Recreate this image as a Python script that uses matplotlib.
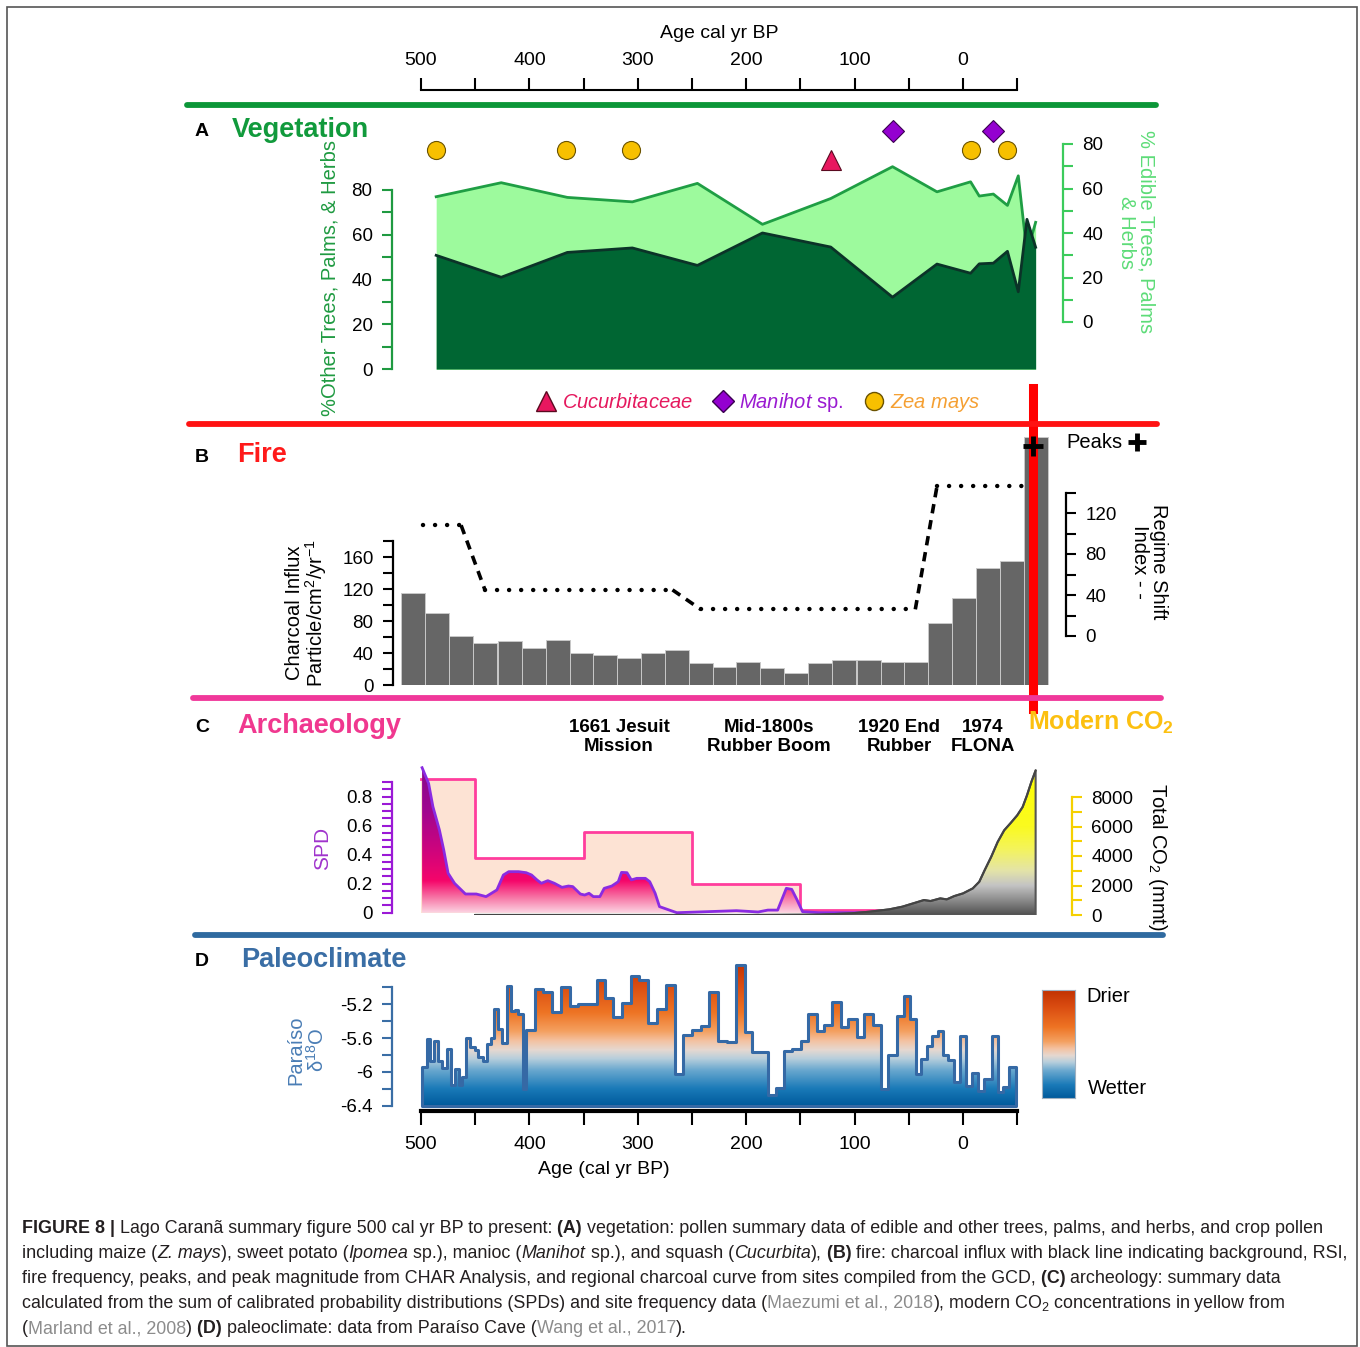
import numpy as np
import matplotlib
matplotlib.use("Agg")
import matplotlib.pyplot as plt
from matplotlib.colors import LinearSegmentedColormap
from matplotlib.lines import Line2D
from matplotlib.patches import Rectangle

plt.rcParams["font.family"] = ["Liberation Sans", "DejaVu Sans"]
plt.rcParams["mathtext.fontset"] = "custom"
plt.rcParams["mathtext.rm"] = "Liberation Sans"
plt.rcParams["mathtext.it"] = "Liberation Sans:italic"
plt.rcParams["mathtext.bf"] = "Liberation Sans:bold"

## Data, ages in cal yr BP
# (A) vegetation
veg_age = [486, 426, 365, 305, 245, 185, 122, 65, 24, -7, -15, -28, -41, -51, -59, -67]
other_pct = [50.8, 41.0, 52.1, 54.1, 46.3, 60.8, 54.5, 32.1, 46.9, 42.8, 47.0, 47.3, 52.6, 34.5, 66.9, 54.4]
edible_pct = [56.3, 62.6, 56.0, 54.0, 62.3, 43.9, 55.5, 69.8, 58.5, 63.0, 56.6, 57.5, 52.4, 65.7, 31.0, 44.8]
zea_age = [486, 366, 306, -7, -41]
cucurbit_age = [122]
manihot_age = [65, -28]

# (B) fire
char_age = [507, 485, 463, 441, 418, 396, 374, 352, 330, 308, 286, 264, 242, 220,
            198, 176, 154, 132, 110, 87, 65, 43, 21, -1, -23, -45, -67]
char_influx = [114.8, 90.1, 61.6, 52.4, 54.5, 45.7, 56.5, 39.8, 36.9, 33.9, 40.2, 44.0, 27.2, 23.0,
               29.3, 20.9, 15.5, 28.1, 31.4, 31.4, 28.5, 28.5, 77.9, 108.9, 145.8, 155.0, 310.0]
rsi_age = [498, 463, 441, 268, 242, 44, 24, -67]
rsi = [108, 108, 45, 45, 26, 26, 146, 146]
peak_age = [-65]

# (C) archaeology + CO2
site_edges = [500, 450, 350, 250, 150, 50]
site_freq = [0.92, 0.377, 0.557, 0.198, 0.02]
spd_age = [499, 493, 489, 483, 479, 475, 469, 459, 449, 440, 430, 424, 419, 410, 403, 398, 393,
           389, 383, 377, 370, 364, 360, 353, 349, 345, 341, 335, 331, 324, 318, 315, 310, 306,
           301, 293, 289, 284, 280, 264, 209, 189, 180, 171, 163, 158, 153, 148, 133, 56]
spd = [1.0, 0.892, 0.731, 0.570, 0.432, 0.272, 0.202, 0.129, 0.129, 0.111, 0.157, 0.260, 0.283,
       0.283, 0.276, 0.260, 0.226, 0.203, 0.221, 0.203, 0.175, 0.184, 0.180, 0.129, 0.122, 0.134,
       0.111, 0.111, 0.168, 0.184, 0.214, 0.278, 0.276, 0.226, 0.237, 0.237, 0.214, 0.134, 0.042,
       0.0, 0.014, 0.005, 0.018, 0.018, 0.168, 0.161, 0.087, 0.007, 0.0, 0.0]
co2_age = [450, 200, 133, 103, 86, 68, 56, 44, 36, 30, 21, 15, 8, 0, -9, -15, -20, -26, -32,
           -38, -44, -50, -55, -59, -63, -67]
co2 = [0, 0, 20, 113, 225, 383, 563, 833, 1014, 946, 1126, 1059, 1284, 1464, 1802, 2252, 3041,
       3941, 4955, 5743, 6239, 6757, 7320, 8108, 9009, 9797]

# (D) Paraiso d18O, step series (left edge ages)
d18o_age = [498.7, 494.7, 491.7, 488.0, 484.0, 480.9, 476.3, 472.3, 468.6, 464.9, 461.8, 458.5,
            454.8, 450.1, 447.1, 443.1, 439.4, 435.4, 432.3, 428.6, 424.9, 420.9, 417.2, 413.2,
            410.2, 406.2, 403.1, 394.8, 387.1, 379.4, 370.8, 362.5, 354.8, 337.9, 330.2, 322.5,
            314.2, 306.2, 298.9, 290.2, 281.9, 274.3, 265.6, 258.0, 250.3, 242.0, 234.0, 226.3,
            218.0, 209.7, 201.1, 194.4, 179.6, 172.8, 165.1, 157.5, 149.8, 142.7, 135.0, 127.9,
            120.6, 112.9, 105.8, 98.1, 91.0, 83.3, 75.7, 68.9, 61.2, 54.1, 48.9, 43.7, 38.8,
            33.5, 28.3, 23.4, 18.2, 13.5, 8.0, 2.8, -2.4, -8.0, -14.1, -19.7, -27.0, -32.0,
            -37.2, -42.4]
d18o = [-5.94, -5.61, -5.87, -5.63, -5.87, -5.95, -5.73, -6.16, -5.96, -6.16, -6.06, -5.60,
        -5.70, -5.74, -5.82, -5.87, -5.67, -5.60, -5.26, -5.49, -5.66, -4.98, -5.28, -5.27,
        -5.31, -6.20, -5.50, -5.02, -5.06, -5.29, -5.00, -5.22, -5.20, -4.91, -5.12, -5.35,
        -5.19, -4.86, -4.91, -5.42, -5.26, -4.97, -6.03, -5.56, -5.50, -5.46, -5.06, -5.63,
        -5.65, -4.73, -5.53, -5.76, -6.27, -6.19, -5.75, -5.73, -5.63, -5.31, -5.52, -5.44,
        -5.17, -5.47, -5.37, -5.59, -5.32, -5.44, -6.20, -5.80, -5.34, -5.10, -5.37, -6.03,
        -5.85, -5.69, -5.57, -5.52, -5.80, -5.86, -6.12, -5.58, -6.17, -6.01, -6.23, -6.08,
        -5.58, -6.24, -6.18, -5.94]
d18o_end = -49

age_major = [500, 400, 300, 200, 100, 0]
age_minor = [450, 350, 250, 150, 50, -50]

W, H = 1360, 1347
fig = plt.figure(figsize=(W / 100, H / 100), dpi=100)


def px_ax(x0, y0, x1, y1):
    ax = fig.add_axes([x0 / W, 1 - y1 / H, (x1 - x0) / W, (y1 - y0) / H])
    ax.set_xlim(age_of(x0), age_of(x1))
    return ax


def age_of(px):
    return 500 - (px - 421) / 1.084


def ftext(x, y, s, **kw):
    kw.setdefault("ha", "center")
    kw.setdefault("va", "center")
    return fig.text(x / W, 1 - y / H, s, **kw)


def hline(x0, x1, y, color):
    fig.add_artist(Line2D([x0 / W, x1 / W], [1 - y / H, 1 - y / H], color=color, lw=4.2,
                          solid_capstyle="round"))


def yaxis_style(ax, side, color, bounds, major, labels, minor):
    for s in ax.spines:
        ax.spines[s].set_visible(s == side)
    ax.spines[side].set_color(color)
    ax.spines[side].set_linewidth(1.6)
    ax.spines[side].set_bounds(*bounds)
    ax.set_yticks(major, labels)
    ax.set_yticks(minor, minor=True)
    ax.tick_params(axis="y", which="both", left=side == "left", right=side == "right",
                   labelleft=side == "left", labelright=side == "right",
                   color=color, length=7, width=1.5, labelsize=13.5, pad=7)
    ax.tick_params(axis="x", which="both", bottom=False, top=False,
                   labelbottom=False, labeltop=False)


def gradient_fill(ax, x, y, base, cmap, vmin, vmax, step=None, edge="none", lw=0, z=2):
    poly = ax.fill_between(x, y, base, step=step, facecolor="none", edgecolor=edge,
                           lw=lw, zorder=z + 0.1)
    xl, yl = ax.get_xlim(), ax.get_ylim()
    ramp = np.linspace(0, 1, 256)[:, None]
    im = ax.imshow(ramp, cmap=cmap, extent=[xl[0], xl[1], vmin, vmax], origin="lower",
                   aspect="auto", zorder=z)
    im.set_clip_path(poly.get_paths()[0], transform=ax.transData)
    ax.set_xlim(xl)
    ax.set_ylim(yl)
    return poly


# frame round the whole figure
fig.add_artist(Rectangle((7 / W, 1 - 1346 / H), 1350 / W, 1339 / H, fill=False,
                         ec="#555555", lw=1.2))

## top age axis
axT = px_ax(392, 90, 1030, 100)
axT.patch.set_visible(False)
for s in ["left", "right", "bottom"]:
    axT.spines[s].set_visible(False)
axT.spines["top"].set_linewidth(1.5)
axT.spines["top"].set_bounds(500, -50)
axT.xaxis.set_ticks_position("top")
axT.set_xticks(age_major, [str(a) for a in age_major])
axT.set_xticks(age_minor, minor=True)
axT.set_yticks([])
axT.tick_params(axis="x", which="both", length=9, width=1.5, pad=6, labelsize=14)
ftext(719, 33, "Age cal yr BP", fontsize=14)

## separators and panel titles
hline(187, 1156, 105, "#0c9638")
hline(189, 1157, 424, "#ff1212")
hline(193, 1161, 698, "#f0389a")
hline(195, 1163, 935, "#2f6aa0")
for lab, x, y, col, tx, title in [("A", 195, 132, "#119a3c", 232, "Vegetation"),
                                   ("B", 195, 457, "#ff1a1a", 237, "Fire"),
                                   ("C", 195, 728, "#f0388f", 237, "Archaeology"),
                                   ("D", 195, 962, "#3a6ea5", 241, "Paleoclimate")]:
    ftext(x, y, lab, ha="left", fontsize=14, fontweight="bold")
    ftext(tx, y - 2, title, ha="left", fontsize=19.5, fontweight="bold", color=col)

## (A) vegetation
axA = px_ax(392, 115, 1063, 369)
axA.set_ylim(0, (369 - 115) * 80 / 179)
axA2 = axA.twinx()
axA2.set_ylim((322 - 369) * 80 / 178, (322 - 115) * 80 / 178)
axA.set_zorder(3)
axA.patch.set_visible(False)
axA2.set_zorder(2)
axA2.fill_between(veg_age, edible_pct, -100, color="#9dfa9d", lw=0)
axA2.plot(veg_age, edible_pct, color="#1f9e44", lw=2)
axA.fill_between(veg_age, other_pct, 0, color="#006633", lw=0)
axA.plot(veg_age, other_pct, color="#0b3328", lw=2)
axA.plot(zea_age, [97.9] * len(zea_age), "o", ms=13, mfc="#f7c000", mec="#6b5300", mew=0.8,
         clip_on=False)
axA.plot(cucurbit_age, [93.4] * len(cucurbit_age), "^", ms=14, mfc="#e8175f", mec="#5a0a20",
         mew=0.8, clip_on=False)
axA.plot(manihot_age, [106.4] * len(manihot_age), "D", ms=11, mfc="#9400d0", mec="#3a0050",
         mew=0.8, clip_on=False)
yaxis_style(axA, "left", "#1f9a41", (0, 80), range(0, 81, 20),
            [str(v) for v in range(0, 81, 20)], range(0, 81, 10))
yaxis_style(axA2, "right", "#3ccb5c", (0, 80), range(0, 81, 20),
            [str(v) for v in range(0, 81, 20)], range(0, 81, 10))
ftext(330, 278, "%Other Trees, Palms, & Herbs", rotation=90, color="#1f9a41", fontsize=14.5)
ftext(1136, 232, "% Edible Trees, Palms\n& Herbs", rotation=-90, color="#5ddc78",
      fontsize=14.5, linespacing=1.0, multialignment="center")

handles = [Line2D([], [], ls="", marker="^", ms=14, mfc="#e8175f", mec="#5a0a20"),
           Line2D([], [], ls="", marker="D", ms=11, mfc="#9400d0", mec="#3a0050"),
           Line2D([], [], ls="", marker="o", ms=13, mfc="#f7c000", mec="#6b5300")]
leg = fig.legend(handles, [r"$\mathit{Cucurbitaceae}$", r"$\mathit{Manihot}$ sp.",
                           r"$\mathit{Zea\ mays}$"],
                 loc="center", bbox_to_anchor=(758 / W, 1 - 403 / H), ncol=3, frameon=False,
                 fontsize=14.5, handletextpad=0.3, columnspacing=1.0, handlelength=1.0)
for t, c in zip(leg.get_texts(), ["#e5195e", "#9a1ad1", "#f5a033"]):
    t.set_color(c)

## (B) fire
axB = px_ax(393, 430, 1066, 685)
axB.set_ylim(0, (685 - 430) / 0.8)
axB.bar(char_age, char_influx, width=22, color="#666666", edgecolor="#c8c8c8", lw=0.7)
axB2 = axB.twinx()
axB2.set_ylim((636 - 685) / 1.025, (636 - 430) / 1.025)
for i in range(len(rsi) - 1):
    flat = rsi[i] == rsi[i + 1]
    axB2.plot(rsi_age[i:i + 2], rsi[i:i + 2], color="black",
              lw=3.2 if flat else 2.6,
              ls=(0, (0.01, 2.7)) if flat else (0, (2.6, 1.9)),
              dash_capstyle="round" if flat else "butt")
axB2.axvline(-64.6, ymin=(685 - 709) / 255, ymax=(685 - 388) / 255, color="#ff0000", lw=6.5,
             clip_on=False, zorder=5)
axB2.plot(peak_age, [299] * len(peak_age), transform=axB.transData, marker="+", ms=14, mew=3.5,
          color="black", ls="", zorder=6, clip_on=False)
yaxis_style(axB, "left", "black", (0, 180), range(0, 161, 40),
            [str(v) for v in range(0, 161, 40)], range(0, 181, 20))
yaxis_style(axB2, "right", "black", (0, 140), range(0, 121, 40),
            [str(v) for v in range(0, 121, 40)], range(0, 141, 20))
ftext(1066, 443, "Peaks", ha="left", fontsize=14.5)
fig.add_artist(Line2D([1137 / W], [1 - 442 / H], marker="+", ms=13, mew=3.5, color="black"))
ftext(307, 613, "Charcoal Influx\nParticle/cm$^2$/yr$^{-1}$", rotation=90, fontsize=14.5,
      linespacing=1.0)
ftext(1149, 562, "Regime Shift\nIndex - -", rotation=-90, fontsize=14.5, linespacing=1.0)

## (C) archaeology
spd_cmap = LinearSegmentedColormap.from_list("spd", [(0, "#fcd4e3"), (0.1, "#f77aa8"),
                                                     (0.22, "#f5066a"), (0.42, "#d0047c"),
                                                     (0.7, "#a0068f"), (1, "#88098a")])
co2_cmap = LinearSegmentedColormap.from_list("co2", [(0, "#505050"), (0.1, "#8c8c8c"),
                                                     (0.2, "#c4c4c4"), (0.3, "#e4e4a8"),
                                                     (0.45, "#f4f45a"), (0.6, "#fafa20"),
                                                     (1, "#ffff00")])
axC = px_ax(392, 765, 1072, 915)
axC.set_ylim((912.7 - 915) / 145, (912.7 - 765) / 145)
step_y = site_freq + [site_freq[-1]]
axC.fill_between(site_edges, step_y, 0, step="post", color="#fde3d4", lw=0, zorder=1)
axC.plot(site_edges, step_y, drawstyle="steps-post", color="#ff3d9d", lw=2, zorder=2)
gradient_fill(axC, spd_age, spd, 0, spd_cmap, 0, 1.0, z=3)
axC.plot(spd_age, spd, color="#8a2be2", lw=2, zorder=4)
axC2 = axC.twinx()
axC2.set_ylim(0, (915 - 765) / 0.01475)
gradient_fill(axC2, co2_age, co2, 0, co2_cmap, 0, 10000, edge="#555555", lw=1.5, z=2)
axC2.plot(co2_age, co2, color="#444444", lw=1.5, zorder=3)
yaxis_style(axC, "left", "#9b19d6", (0, 0.9), [0, 0.2, 0.4, 0.6, 0.8],
            ["0", "0.2", "0.4", "0.6", "0.8"], np.arange(0, 0.91, 0.05))
yaxis_style(axC2, "right", "#f5d000", (0, 8000), range(0, 8001, 2000),
            [str(v) for v in range(0, 8001, 2000)], range(0, 8001, 1000))
ftext(323, 848, "SPD", rotation=90, color="#a033cc", fontsize=15)
ftext(1158, 857, "Total CO$_2$ (mmt)", rotation=-90, fontsize=14.5)
for x, s in [(619, "1661 Jesuit\nMission"), (769, "Mid-1800s\nRubber Boom"),
             (899, "1920 End\nRubber"), (983, "1974\nFLONA")]:
    ftext(x, 737, s, fontsize=13.5, fontweight="bold", linespacing=1.2)
ftext(1028, 722, r"Modern CO$_\mathbf{2}$", ha="left", fontsize=18, fontweight="bold",
      color="#fcc010")

## (D) paleoclimate
clim_cmap = LinearSegmentedColormap.from_list("clim", [(0, "#005a9c"), (0.12, "#1a7ab8"),
                                                       (0.25, "#6aa8cf"), (0.33, "#b8cfdc"),
                                                       (0.39, "#e6d8d0"), (0.45, "#f3c3a4"),
                                                       (0.52, "#f4a060"), (0.65, "#ee7424"),
                                                       (0.85, "#d84a10"), (1, "#c03000")])
axD = px_ax(392, 960, 1030, 1111)
axD.set_ylim(-6.4 - (1111 - 1105.7) / 84.5, -6.4 + (1105.7 - 960) / 84.5)
gradient_fill(axD, d18o_age + [d18o_end], d18o + [d18o[-1]], -6.4, clim_cmap, -6.4, -4.7,
              step="post", edge="#3569a5", lw=2.2, z=2)
yaxis_style(axD, "left", "#3a6ea5", (-6.4, -5.0), [-6.4, -6.0, -5.6, -5.2],
            ["-6.4", "-6", "-5.6", "-5.2"], np.arange(-6.4, -4.99, 0.2))
axD.spines["bottom"].set_visible(True)
axD.spines["bottom"].set_linewidth(3)
axD.spines["bottom"].set_bounds(500, -50)
axD.set_xticks(age_major, [str(a) for a in age_major])
axD.set_xticks(age_minor, minor=True)
axD.tick_params(axis="x", which="both", bottom=True, labelbottom=True, length=10, width=1.5,
                pad=8, labelsize=14)
ftext(604, 1170, "Age (cal yr BP)", fontsize=14)
ftext(307, 1050, "Paraíso\nδ$^{18}$O", rotation=90, color="#4a7db5", fontsize=14.5,
      linespacing=1.0)

# colour key for panel D
axCB = fig.add_axes([1042 / W, 1 - 1098 / H, 33 / W, 108 / H])
axCB.imshow(np.linspace(0, 1, 256)[:, None], cmap=clim_cmap, origin="lower", aspect="auto",
            extent=[0, 1, 0, 1])
axCB.set_xlim(0, 1)
axCB.set_ylim(0, 1)
axCB.set_xticks([])
axCB.set_yticks([])
for s in axCB.spines.values():
    s.set_color("#9fb0c0")
    s.set_linewidth(0.8)
ftext(1086, 997, "Drier", ha="left", fontsize=14.5)
ftext(1088, 1089, "Wetter", ha="left", fontsize=14.5)

## caption, with mixed styles drawn piece by piece
renderer = fig.canvas.get_renderer()


def rich_line(x, y, parts, size=12.85):
    xf = x / W
    for s, style in parts:
        kw = dict(fontsize=size, color="#231f20", va="baseline", ha="left")
        if style == "b":
            kw["fontweight"] = "bold"
        elif style == "i":
            kw["fontstyle"] = "italic"
        elif style == "g":
            kw["color"] = "#8c8c8c"
        t = fig.text(xf, 1 - y / H, s, **kw)
        xf = t.get_window_extent(renderer).x1 / W


rich_line(22, 1233, [("FIGURE 8 |", "b"), (" Lago Caranã summary figure 500 cal yr BP to present:", "n"),
                     (" (A)", "b"),
                     (" vegetation: pollen summary data of edible and other trees, palms, and herbs, and crop pollen", "n")])
rich_line(22, 1258, [("including maize (", "n"), ("Z. mays", "i"), ("), sweet potato (", "n"),
                     ("Ipomea", "i"), (" sp.), manioc (", "n"), ("Manihot", "i"),
                     (" sp.), and squash (", "n"), ("Cucurbita", "i"), ("),", "n"), (" (B)", "b"),
                     (" fire: charcoal influx with black line indicating background, RSI,", "n")])
rich_line(22, 1283, [("fire frequency, peaks, and peak magnitude from CHAR Analysis, and regional charcoal curve from sites compiled from the GCD,", "n"),
                     (" (C)", "b"), (" archeology: summary data", "n")])
rich_line(22, 1308, [("calculated from the sum of calibrated probability distributions (SPDs) and site frequency data (", "n"),
                     ("Maezumi et al., 2018", "g"), ("), modern CO$_2$ concentrations in yellow from", "n")])
rich_line(22, 1333, [("(", "n"), ("Marland et al., 2008", "g"), (")", "n"), (" (D)", "b"),
                     (" paleoclimate: data from Paraíso Cave (", "n"), ("Wang et al., 2017", "g"),
                     (").", "n")])

fig.savefig("out.png", dpi=100)
